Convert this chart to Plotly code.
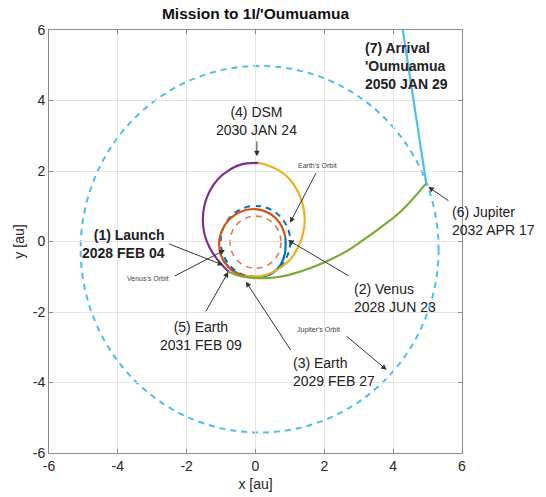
import plotly.graph_objects as go

# ---------------- data (au) ----------------
# transfer legs
leg1_x = [-0.92, -0.7, -0.35, 0.05, 0.45, 0.72, 0.86, 0.87]            # Launch -> Venus
leg1_y = [-0.55, -0.8, -0.97, -1.0, -0.92, -0.68, -0.3, 0.12]
leg2_x = [0.87, 0.72, 0.4, 0.0, -0.45, -0.85, -1.05, -1.0, -0.8, -0.55, -0.3]   # Venus -> Earth
leg2_y = [0.12, 0.5, 0.8, 0.92, 0.84, 0.52, 0.05, -0.4, -0.72, -0.9, -0.97]
leg3_x = [-0.3, -0.05, 0.33, 0.69, 1.0, 1.23, 1.38, 1.43, 1.38, 1.23, 1.0, 0.69, 0.33, 0.08]  # Earth -> DSM
leg3_y = [-0.97, -1.0, -0.94, -0.77, -0.52, -0.18, 0.22, 0.62, 1.03, 1.42, 1.76, 2.01, 2.17, 2.23]
leg4_x = [0.08, -0.43, -0.79, -1.10, -1.33, -1.48, -1.53, -1.48, -1.33, -1.10, -0.78]  # DSM -> Earth
leg4_y = [2.23, 2.18, 2.01, 1.76, 1.43, 1.04, 0.62, 0.20, -0.18, -0.52, -0.86]
leg5_x = [-0.78, -0.45, -0.1, 0.3, 0.7, 1.1, 1.6, 2.07, 2.6, 3.04, 3.6, 4.25, 4.96]  # Earth -> Jupiter
leg5_y = [-0.86, -0.98, -1.03, -1.04, -1.0, -0.91, -0.75, -0.56, -0.3, -0.02, 0.37, 0.88, 1.65]
leg6_x = [4.96, 4.0]                                                    # Jupiter -> 'Oumuamua
leg6_y = [1.65, 7.8]

leg_colors = ["#0072BD", "#D95319", "#EDB120", "#7E2F8E", "#77AC30", "#4DBEEE"]

# planetary orbits: centre x, centre y, radius
orbit_names = ["Venus", "Earth", "Jupiter"]
orbit_cx = [0.0, 0.0, 0.12]
orbit_cy = [-0.02, 0.0, -0.22]
orbit_r = [0.74, 1.01, 5.2]
orbit_colors = ["#E07A50", "#0072BD", "#4DBEEE"]
orbit_widths = [1.6, 2.0, 2.0]

# event labels: text, x, y, xanchor, bold
label_text = ["(1) Launch<br>2028 FEB 04", "(2) Venus<br>2028 JUN 23", "(3) Earth<br>2029 FEB 27",
              "(4) DSM<br>2030 JAN 24", "(5) Earth<br>2031 FEB 09", "(6) Jupiter<br>2032 APR 17",
              "(7) Arrival<br>'Oumuamua<br>2050 JAN 29"]
label_x = [-2.57, 2.80, 1.02, 0.04, -1.59, 5.65, 3.12]
label_y = [-0.06, -1.61, -3.70, 3.41, -2.67, 0.59, 4.98]
label_anchor = ["right", "left", "left", "center", "center", "left", "left"]
label_bold = [True, False, False, False, False, False, True]

# arrows: tail (x, y) -> head (x, y)
arrow_tail_x = [-2.56, 2.75, 1.05, 0.04, -1.47, 5.65, 1.78, -2.39, 2.60]
arrow_tail_y = [-0.05, -1.0, -3.12, 2.88, -2.03, 1.13, 1.98, -1.0, -2.65]
arrow_head_x = [-0.94, 0.95, -0.28, 0.04, -0.79, 5.02, 1.0, -0.89, 3.81]
arrow_head_y = [-0.67, 0.04, -1.14, 2.42, -0.86, 1.55, 0.53, -0.24, -3.64]

# small orbit labels
small_text = ["Earth's Orbit", "Venus's Orbit", "Jupiter's Orbit"]
small_x = [1.80, -3.15, 1.15]
small_y = [2.15, -1.04, -2.51]
small_anchor = ["center", "center", "left"]

tick_vals = [-6, -4, -2, 0, 2, 4, 6]
tick_text = ["-6", "-4", "-2", "0", "2", "4", "6"]

FONT = "Liberation Sans, Arial, Helvetica, sans-serif"
TXT = "#222222"

fig = go.Figure()

legs = [(leg1_x, leg1_y), (leg2_x, leg2_y), (leg3_x, leg3_y),
        (leg4_x, leg4_y), (leg5_x, leg5_y), (leg6_x, leg6_y)]
for (lx, ly), c in zip(legs, leg_colors):
    fig.add_trace(go.Scatter(x=lx, y=ly, mode="lines",
                             line=dict(color=c, width=2.2, shape="spline", smoothing=1.0),
                             showlegend=False, hoverinfo="skip"))

for cx, cy, r, c, w in zip(orbit_cx, orbit_cy, orbit_r, orbit_colors, orbit_widths):
    fig.add_shape(type="circle", xref="x", yref="y",
                  x0=cx - r, x1=cx + r, y0=cy - r, y1=cy + r,
                  line=dict(color=c, width=w, dash="6px,5px"), layer="below")

for t, x, y, a, b in zip(label_text, label_x, label_y, label_anchor, label_bold):
    fig.add_annotation(x=x, y=y, xref="x", yref="y", text=(f"<b>{t}</b>" if b else t),
                       showarrow=False, xanchor=a, yanchor="middle", align=a,
                       font=dict(family=FONT, size=14, color=TXT))

for t, x, y, a in zip(small_text, small_x, small_y, small_anchor):
    fig.add_annotation(x=x, y=y, xref="x", yref="y", text=t, showarrow=False,
                       xanchor=a, yanchor="middle", font=dict(family=FONT, size=7, color="#444444"))

for tx, ty, hx, hy in zip(arrow_tail_x, arrow_tail_y, arrow_head_x, arrow_head_y):
    fig.add_annotation(x=hx, y=hy, xref="x", yref="y", ax=tx, ay=ty, axref="x", ayref="y",
                       text="", showarrow=True, arrowhead=2, arrowsize=1.1, arrowwidth=1,
                       arrowcolor="#333333", standoff=0, startstandoff=0)

axis_common = dict(range=[-6, 6], tickvals=tick_vals, ticktext=tick_text, automargin=False,
                   showgrid=True, gridcolor="#e4e4e4", gridwidth=1, zeroline=False,
                   showline=True, linecolor="#8c8c8c", linewidth=1, mirror="allticks",
                   ticks="inside", ticklen=4, tickcolor="#8c8c8c",
                   tickfont=dict(family=FONT, size=14, color="#262626"))

fig.update_layout(
    width=546, height=497, autosize=False,
    margin=dict(l=49, r=84, t=30, b=44, autoexpand=False),
    paper_bgcolor="white", plot_bgcolor="white",
    title=dict(text="<b>Mission to 1I/'Oumuamua</b>", x=0.5, xref="paper",
               y=1 - 14 / 497, yref="container", yanchor="middle", xanchor="center",
               font=dict(family=FONT, size=15.5, color="#111111")),
    xaxis=dict(axis_common, title=dict(text="x [au]", standoff=6,
                                       font=dict(family=FONT, size=14, color="#262626"))),
    yaxis=dict(axis_common, title=dict(text="y [au]", standoff=4,
                                       font=dict(family=FONT, size=14, color="#262626"))),
    showlegend=False,
    hovermode=False,
)

# remove the browser's default 8px page margin so the figure sits at the window origin
fig.write_html("out.html", config={"displayModeBar": False, "staticPlot": True},
               post_script="document.body.style.margin='0px';")
